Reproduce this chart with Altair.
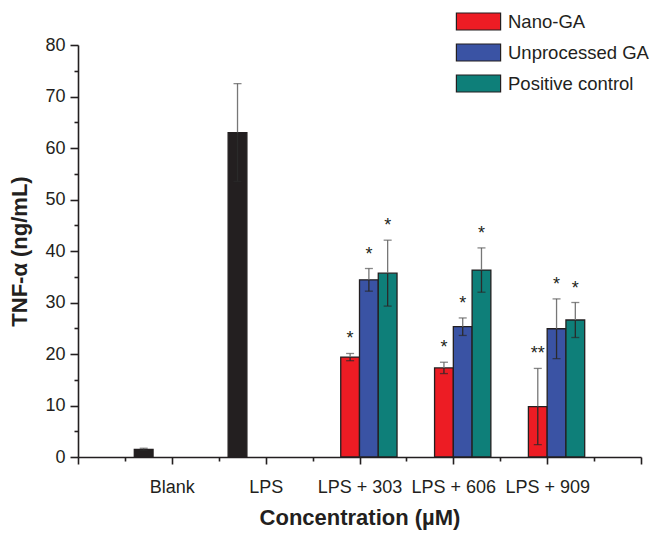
import altair as alt
import pandas as pd

# ---------------- data ----------------
groups = ["Blank", "LPS", "LPS + 303", "LPS + 606", "LPS + 909"]
group_pos = [1, 2, 3, 4, 5]

control_groups = ["Blank", "LPS"]
control_vals = [1.5, 63.0]
control_err = [0.2, 9.5]

treat_groups = ["LPS + 303", "LPS + 606", "LPS + 909"]
series = ["Nano-GA", "Unprocessed GA", "Positive control"]
nano_vals = [19.4, 17.3, 9.8]
nano_err = [0.7, 1.1, 7.4]
unproc_vals = [34.4, 25.3, 24.9]
unproc_err = [2.2, 1.7, 5.8]
posctl_vals = [35.7, 36.3, 26.6]
posctl_err = [6.4, 4.3, 3.4]
nano_sig = ["*", "*", "**"]
unproc_sig = ["*", "*", "*"]
posctl_sig = ["*", "*", "*"]

y_major = [0, 10, 20, 30, 40, 50, 60, 70, 80]
y_minor = [5, 15, 25, 35, 45, 55, 65, 75]
x_major = [0, 1, 2, 3, 4, 5, 6]
x_minor = [0.5, 1.5, 2.5, 3.5, 4.5, 5.5]

colors = {"Control": "#231f20", "Nano-GA": "#ed1c24",
          "Unprocessed GA": "#3a53a4", "Positive control": "#0e7f79"}

# ---------------- table ----------------
BW = 0.2  # bar width in x units (4 slots per group)
slot = {"Control": -2, "Nano-GA": -1, "Unprocessed GA": 0, "Positive control": 1}
pos_of = dict(zip(groups, group_pos))

rows = []
for g, v, e in zip(control_groups, control_vals, control_err):
    rows.append(("Control", g, v, e, ""))
for s, vals, errs, sigs in [
    ("Nano-GA", nano_vals, nano_err, nano_sig),
    ("Unprocessed GA", unproc_vals, unproc_err, unproc_sig),
    ("Positive control", posctl_vals, posctl_err, posctl_sig),
]:
    for g, v, e, sg in zip(treat_groups, vals, errs, sigs):
        rows.append((s, g, v, e, sg))

df = pd.DataFrame(rows, columns=["series", "group", "value", "err", "sig"])
df["x0"] = df.apply(lambda r: pos_of[r.group] + slot[r.series] * BW, axis=1)
df["x1"] = df["x0"] + BW
df["xc"] = df["x0"] + BW / 2
df["lo"] = df["value"] - df["err"]
df["hi"] = df["value"] + df["err"]

FONT = "Liberation Sans"
DARK = "#231f20"

xscale = alt.Scale(domain=[0, 6], nice=False, zero=False)
yscale = alt.Scale(domain=[0, 80], nice=False)

label_arr = "['','" + "','".join(groups) + "','']"

x_axis_major = alt.Axis(values=x_major, labelExpr=label_arr + "[datum.value]",
                        orient="bottom", tickSize=7, labelPadding=14,
                        title="Concentration (\u00b5M)", titlePadding=11, grid=False)
y_axis_major = alt.Axis(values=y_major, orient="left", tickSize=8, labelPadding=5,
                        title="TNF-\u03b1 (ng/mL)", titlePadding=13, grid=False)

color = alt.Color("series:N",
                  scale=alt.Scale(domain=list(colors.keys()), range=list(colors.values())),
                  legend=alt.Legend(values=series, orient="none", legendX=391, legendY=-33,
                                    title=None, symbolType="M-2.6,-1H2.6V1H-2.6Z",
                                    symbolSize=289, symbolStrokeColor=DARK,
                                    symbolStrokeWidth=1.2, symbolOpacity=1,
                                    labelOffset=20, rowPadding=8, padding=0,
                                    labelFontSize=18.5, labelFont=FONT, labelColor=DARK))

base = alt.Chart(df)

bars = base.mark_bar(stroke=DARK, strokeWidth=1.3, opacity=1).encode(
    x=alt.X("x0:Q", scale=xscale, axis=x_axis_major),
    x2="x1:Q",
    y=alt.Y("value:Q", scale=yscale, axis=y_axis_major),
    y2=alt.datum(0),
    color=color,
)

# upper whisker (above bar, grey)
err_up = base.mark_rule(color="#777777", strokeWidth=1.3).encode(
    x=alt.X("xc:Q", scale=xscale,
            axis=alt.Axis(values=x_minor, orient="bottom", labels=False, tickSize=4,
                          domain=False, title=None, grid=False)),
    y=alt.Y("value:Q", scale=yscale,
            axis=alt.Axis(values=y_minor, orient="left", labels=False, tickSize=4,
                          domain=False, title=None, grid=False)),
    y2="hi:Q",
)
# lower whisker (inside bar, dark)
err_down = base.mark_rule(color="#2a2a2a", strokeWidth=1.3).encode(
    x=alt.X("xc:Q", scale=xscale, axis=None),
    y=alt.Y("lo:Q", scale=yscale, axis=None),
    y2="value:Q",
)

cap_hi = base.mark_tick(color="#555555", orient="horizontal", size=8, thickness=1.3).encode(
    x=alt.X("xc:Q", scale=xscale, axis=None),
    y=alt.Y("hi:Q", scale=yscale, axis=None),
)
cap_lo = base.mark_tick(color="#2a2a2a", orient="horizontal", size=8, thickness=1.3).encode(
    x=alt.X("xc:Q", scale=xscale, axis=None),
    y=alt.Y("lo:Q", scale=yscale, axis=None),
)

stars = base.mark_text(font=FONT, fontSize=18, color=DARK, baseline="bottom", dy=-5).encode(
    x=alt.X("xc:Q", scale=xscale, axis=None),
    y=alt.Y("hi:Q", scale=yscale, axis=None),
    text="sig:N",
)

chart = alt.layer(bars, err_up, err_down, cap_hi, cap_lo, stars).resolve_axis(
    x="independent", y="independent"
).properties(
    width=563, height=412,
    autosize=alt.AutoSizeParams(type="none"),
    padding={"left": 70, "top": 37, "right": 16, "bottom": 79},
).configure_view(stroke=None).configure_axis(
    labelFont=FONT, labelFontSize=18, labelColor=DARK,
    titleFont=FONT, titleFontSize=22, titleFontWeight="bold", titleColor=DARK,
    domainColor=DARK, domainWidth=1.6, tickColor=DARK, tickWidth=1.6,
)

chart.save("out.html", embed_options={"renderer": "svg", "actions": False})
